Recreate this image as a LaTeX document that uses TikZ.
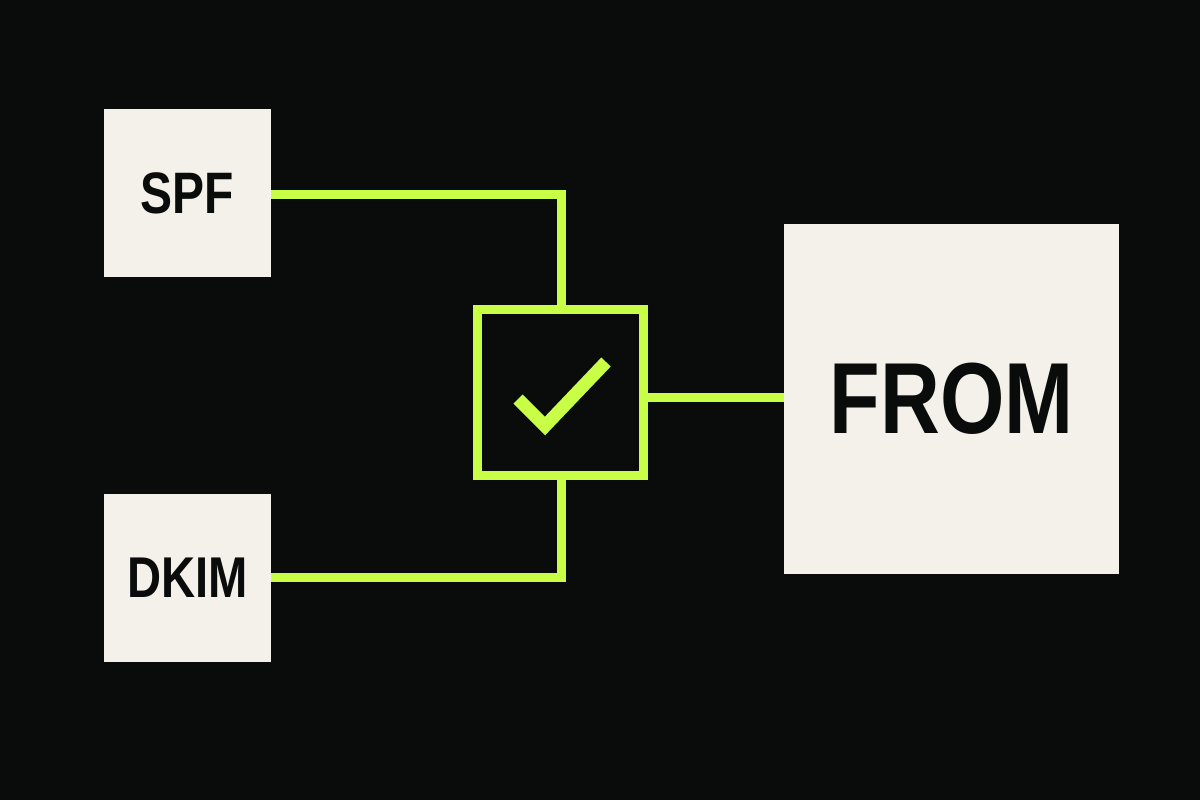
\documentclass[tikz,border=0pt]{standalone}
\usepackage{fontspec}
\setmainfont{Liberation Sans}[FakeStretch=0.82]
\usetikzlibrary{calc}
\definecolor{bg}{HTML}{0A0C0B}
\definecolor{cream}{HTML}{F3F1EA}
\definecolor{lime}{HTML}{C8FF46}
\definecolor{ink}{HTML}{0A0C0B}
\begin{document}
\begin{tikzpicture}[x=1pt,y=-1pt,
  card/.style={rectangle, fill=cream, inner sep=0pt, text=ink, font=\bfseries},
  wire/.style={draw=lime, line width=8.5pt},
]
\fill[bg] (0,0) rectangle (1200,800);
\useasboundingbox (0,0) rectangle (1200,800);
\node[card, minimum width=167pt, minimum height=168pt, font=\bfseries\fontsize{58.5}{58.5}\selectfont] (spf) at (187.5,193) {SPF};
\node[card, minimum width=167pt, minimum height=168pt, font=\bfseries\fontsize{57.5}{57.5}\selectfont] (dkim) at (187.5,578) {DKIM};
\node[card, minimum width=335pt, minimum height=350pt, font=\bfseries\fontsize{101}{101}\selectfont] (from) at (951.5,399) {FROM};
\node[rectangle, draw=lime, line width=9pt, minimum width=166pt, minimum height=166pt, inner sep=0pt] (check) at (560.5,392.5) {};
\draw[wire] ([yshift=-1.5pt]spf.east) -| ([xshift=1pt]check.north);
\draw[wire] ([yshift=0.5pt]dkim.east) -| ([xshift=1pt]check.south);
\draw[wire] ([yshift=-5pt]check.east) -- ([yshift=-5pt]check.east -| from.west);
\draw[lime, line width=13pt, line join=miter] ($(check.center)+(-42.5,6.5)$) -- ($(check.center)+(-15.5,33.5)$) -- ($(check.center)+(45.5,-30.5)$);
\end{tikzpicture}
\end{document}
